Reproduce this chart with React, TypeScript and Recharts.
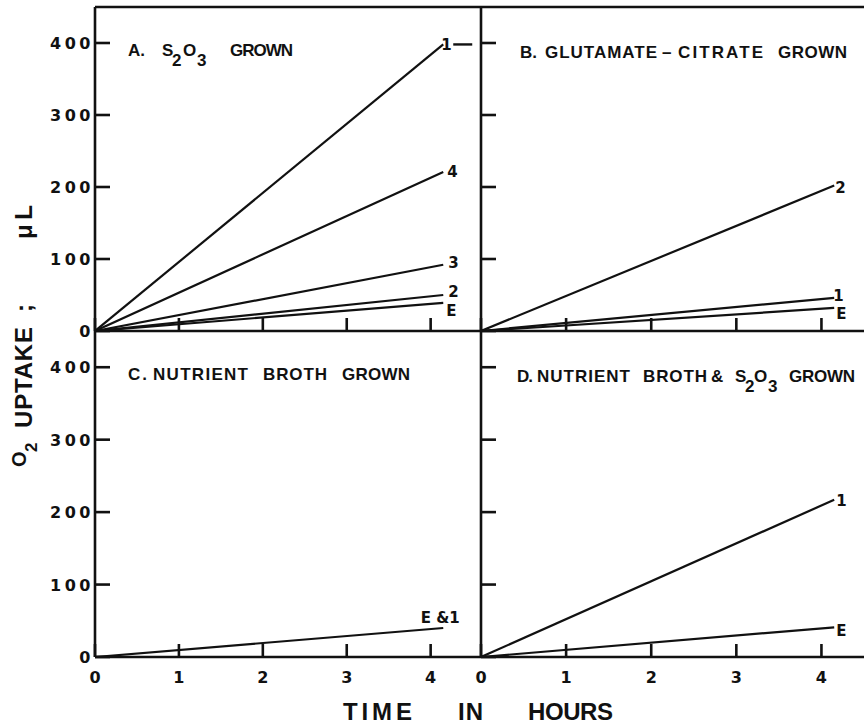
import React from 'react';
import { LineChart, Line, XAxis, YAxis } from 'recharts';

// time axis: every curve is a straight run from 0 to just past 4 h
const hours = [0, 4.15];
const xTicks = [0, 1, 2, 3, 4];
const yTicks = [0, 100, 200, 300, 400];

// A. S2O3 grown
const aNames = ['1', '4', '3', '2', 'E'];
const a1 = [0, 398];
const a4 = [0, 221];
const a3 = [0, 92];
const a2 = [0, 50];
const aE = [0, 39];

// B. glutamate-citrate grown
const bNames = ['2', '1', 'E'];
const b2 = [0, 202];
const b1 = [0, 46];
const bE = [0, 32];

// C. nutrient broth grown
const cNames = ['E &1'];
const cE1 = [0, 40];

// D. nutrient broth & S2O3 grown
const dNames = ['1', 'E'];
const d1 = [0, 217];
const dE = [0, 41];

const INK = '#111';
const WORDS = '"Liberation Sans", Arial, sans-serif';
const DIGITS = '"DejaVu Sans", sans-serif';

type LabelStyle = { dx: number; dy: number; anchor?: 'start' | 'middle' | 'end'; tail?: boolean };

const aLabels: LabelStyle[] = [
  { dx: -2, dy: 5.5, tail: true },
  { dx: 4, dy: 5.5 },
  { dx: 5, dy: 3.5 },
  { dx: 5, dy: 1.5 },
  { dx: 3, dy: 13.5 },
];
const bLabels: LabelStyle[] = [
  { dx: 1, dy: 7.5 },
  { dx: -1, dy: 3.5 },
  { dx: 2, dy: 11.5 },
];
const cLabels: LabelStyle[] = [{ dx: -3, dy: -5.5, anchor: 'middle' }];
const dLabels: LabelStyle[] = [
  { dx: 2, dy: 6.5 },
  { dx: 2, dy: 8.5 },
];

const makeRows = (series: number[][]) =>
  hours.map((t, i) => {
    const row: Record<string, number> = { t };
    series.forEach((s, k) => {
      row[`s${k}`] = s[i];
    });
    return row;
  });

// inward tick marks; axisX / axisY are the plot edges in chart coordinates
const YTick = ({ y, payload, show, axisX }: any) => (
  <g>
    <line x1={axisX} x2={axisX + 15} y1={y} y2={y} stroke={INK} strokeWidth={2.6} />
    {show && (
      <text x={axisX - 1} y={y} dy={6} textAnchor="end" fontFamily={DIGITS} fontWeight="bold"
        fontSize={16} letterSpacing={3.5} fill={INK}>
        {payload.value}
      </text>
    )}
  </g>
);

const XTick = ({ x, payload, show, axisY }: any) => (
  <g>
    <line x1={x} x2={x} y1={axisY} y2={axisY - 13} stroke={INK} strokeWidth={2.6} />
    {show && (
      <text x={x} y={axisY + 26} textAnchor="middle" fontFamily={DIGITS} fontWeight="bold"
        fontSize={16} fill={INK}>
        {payload.value}
      </text>
    )}
  </g>
);

interface PanelProps {
  left: number;
  top: number;
  width: number;
  height: number;
  margin: { top: number; right: number; bottom: number; left: number };
  yWidth: number;
  xHeight: number;
  xMax: number;
  series: number[][];
  names: string[];
  labels: LabelStyle[];
  yLabels: boolean;
  xLabels: boolean;
  topBorder: boolean;
}

const Panel: React.FC<PanelProps> = (p) => {
  const data = makeRows(p.series);
  const last = hours.length - 1;
  const axisLine = { stroke: INK, strokeWidth: 2.6 };
  const axisX = p.margin.left + p.yWidth;
  const axisY = p.height - p.margin.bottom - p.xHeight;
  return (
    <div style={{ position: 'absolute', left: p.left, top: p.top }}>
      <LineChart width={p.width} height={p.height} data={data} margin={p.margin}>
        <XAxis dataKey="t" type="number" domain={[0, p.xMax]} ticks={xTicks} interval={0}
          allowDataOverflow height={p.xHeight} tickSize={0} tickMargin={0} tickLine={false}
          axisLine={axisLine} tick={(t: any) => <XTick {...t} show={p.xLabels} axisY={axisY} />} />
        {p.topBorder && (
          <XAxis xAxisId="top" orientation="top" dataKey="t" type="number" domain={[0, p.xMax]}
            height={1} tick={false} tickLine={false} axisLine={axisLine} />
        )}
        <YAxis type="number" domain={[0, 450]} ticks={yTicks} interval={0} allowDataOverflow
          width={p.yWidth} tickSize={0} tickMargin={0} tickLine={false} axisLine={axisLine}
          tick={(t: any) => <YTick {...t} show={p.yLabels} axisX={axisX} />} />
        {p.series.map((_, k) => (
          <Line
            key={k}
            dataKey={`s${k}`}
            stroke={INK}
            strokeWidth={2.2}
            isAnimationActive={false}
            activeDot={false}
            dot={(d: any) => {
              const key = `lab-${k}-${d.index}`;
              if (d.index !== last) return <g key={key} />;
              const s = p.labels[k];
              return (
                <g key={key}>
                  <text x={d.cx + s.dx} y={d.cy + s.dy} textAnchor={s.anchor ?? 'start'}
                    fontFamily={DIGITS} fontWeight="bold" fontSize={15} fill={INK}>
                    {p.names[k]}
                  </text>
                  {s.tail && (
                    <line x1={d.cx + 10} x2={d.cx + 29} y1={d.cy} y2={d.cy} stroke={INK} strokeWidth={2.4} />
                  )}
                </g>
              );
            }}
          />
        ))}
      </LineChart>
    </div>
  );
};

const Overlay = () => (
  <svg width={864} height={725} style={{ position: 'absolute', left: 0, top: 0, pointerEvents: 'none' }}>
    <g fontFamily={WORDS} fontWeight="bold" fill={INK} fontSize={17}>
      {/* A */}
      <text x={128} y={56} textLength={17}>A.</text>
      <text y={56}>
        <tspan x={162}>S</tspan>
        <tspan x={172} dy={10}>2</tspan>
        <tspan x={183} dy={-10}>O</tspan>
        <tspan x={197} dy={10}>3</tspan>
      </text>
      <text x={230} y={56} textLength={63}>GROWN</text>

      {/* B */}
      <text x={520} y={58} textLength={17}>B.</text>
      <text x={545} y={58} textLength={112}>GLUTAMATE</text>
      <text x={662} y={58}>–</text>
      <text x={678} y={58} textLength={85}>CITRATE</text>
      <text x={778} y={58} textLength={69}>GROWN</text>

      {/* C */}
      <text x={128} y={380} textLength={19}>C.</text>
      <text x={153} y={380} textLength={95}>NUTRIENT</text>
      <text x={263} y={380} textLength={64}>BROTH</text>
      <text x={342} y={380} textLength={68}>GROWN</text>

      {/* D */}
      <text x={517} y={382} textLength={16}>D.</text>
      <text x={537} y={382} textLength={93}>NUTRIENT</text>
      <text x={643} y={382} textLength={64}>BROTH</text>
      <text x={711} y={382}>&amp;</text>
      <text y={382}>
        <tspan x={735}>S</tspan>
        <tspan x={745} dy={10}>2</tspan>
        <tspan x={754} dy={-10}>O</tspan>
        <tspan x={768} dy={10}>3</tspan>
      </text>
      <text x={789} y={382} textLength={66}>GROWN</text>
    </g>

    {/* axis titles */}
    <g fontFamily={WORDS} fontWeight="bold" fill={INK} fontSize={24}>
      <text x={343} y={720} textLength={69}>TIME</text>
      <text x={458} y={720} textLength={25}>IN</text>
      <text x={528} y={720} textLength={85}>HOURS</text>
      <text transform="translate(32,467) rotate(-90)">
        <tspan x={0} y={-6} fontSize={20}>O</tspan>
        <tspan x={15} y={5} fontSize={17}>2</tspan>
        <tspan x={39} y={0} textLength={101}>UPTAKE</tspan>
        <tspan x={155} y={0}>;</tspan>
        <tspan x={228} y={0} textLength={34}>μL</tspan>
      </text>
    </g>
  </svg>
);

export default function App() {
  return (
    <div style={{ position: 'absolute', left: 0, top: 0, width: 864, height: 725, background: '#fff', overflow: 'hidden' }}>
      <Panel left={0} top={0} width={500} height={340} margin={{ top: 6, right: 19, bottom: 8, left: 0 }}
        yWidth={95} xHeight={1} xMax={4.6} series={[a1, a4, a3, a2, aE]} names={aNames} labels={aLabels}
        yLabels xLabels={false} topBorder />
      <Panel left={431} top={0} width={433} height={340} margin={{ top: 6, right: 0, bottom: 8, left: 49 }}
        yWidth={1} xHeight={1} xMax={4.5} series={[b2, b1, bE]} names={bNames} labels={bLabels}
        yLabels={false} xLabels={false} topBorder />
      <Panel left={0} top={321} width={500} height={404} margin={{ top: 10, right: 19, bottom: 38, left: 0 }}
        yWidth={95} xHeight={30} xMax={4.6} series={[cE1]} names={cNames} labels={cLabels}
        yLabels xLabels topBorder={false} />
      <Panel left={431} top={321} width={433} height={404} margin={{ top: 10, right: 0, bottom: 38, left: 49 }}
        yWidth={1} xHeight={30} xMax={4.5} series={[d1, dE]} names={dNames} labels={dLabels}
        yLabels={false} xLabels topBorder={false} />
      <Overlay />
    </div>
  );
}
